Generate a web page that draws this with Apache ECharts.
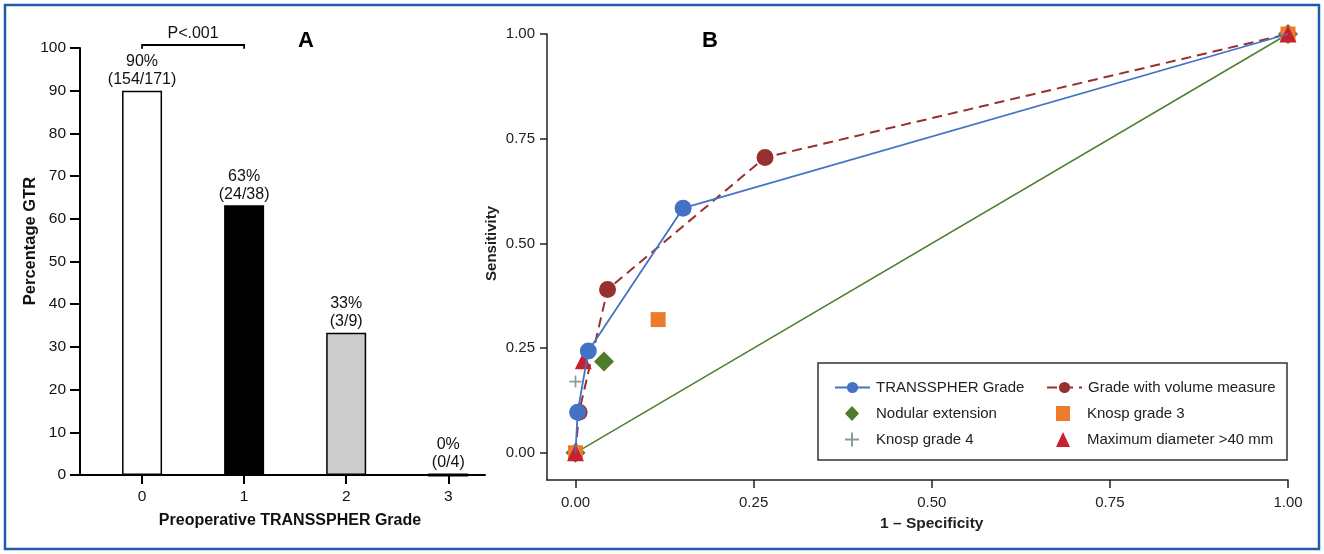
<!DOCTYPE html>
<html>
<head>
<meta charset="utf-8">
<script src="https://cdn.jsdelivr.net/npm/echarts@6/dist/echarts.min.js"></script>
<style>
html,body{margin:0;padding:0;background:#fff;}
#chart{width:1324px;height:554px;}
</style>
</head>
<body>
<div id="chart"></div>
<script>
// ---------- Panel A data ----------
const gradeCategories = ['0', '1', '2', '3'];
const gtrPercent = [90, 63.2, 33.3, 0];
const pctLabels = ['90%', '63%', '33%', '0%'];
const countLabels = ['(154/171)', '(24/38)', '(3/9)', '(0/4)'];
const barFills = ['#ffffff', '#000000', '#cccccc', '#000000'];
const pValueText = 'P<.001';

// ---------- Panel B data (x = 1 - specificity, y = sensitivity) ----------
const rocTicks = [0, 0.25, 0.5, 0.75, 1];
const transspherGrade = [[0, 0], [0.003, 0.097], [0.018, 0.243], [0.151, 0.584], [1, 1]];
const gradeVolume = [[0, 0], [0.005, 0.097], [0.045, 0.39], [0.266, 0.705], [1, 1]];
const nodularExt = [[0, 0], [0.04, 0.218], [1, 1]];
const knosp3 = [[0, 0], [0.116, 0.318], [1, 1]];
const knosp4 = [[0, 0], [0, 0.17], [1, 1]];
const maxDiam = [[0, 0], [0.011, 0.22], [1, 1]];
const diagonal = [[0, 0], [1, 1]];

const FONT = 'Liberation Sans, Arial, Helvetica, sans-serif';
const plusPath = 'path://M4.3,0H5.7V4.3H10V5.7H5.7V10H4.3V5.7H0V4.3H4.3Z';

function endpointsHidden(arr) {
  return arr.map((p, i) => (i === 0 || i === arr.length - 1) ? { value: p, symbol: 'none' } : p);
}

const chart = echarts.init(document.getElementById('chart'), null, { renderer: 'canvas' });

const axisTextA = { color: '#111', fontSize: 15.5, fontFamily: FONT };
const axisTextB = { color: '#222', fontSize: 15, fontFamily: FONT };
const legendText = { fontSize: 15, color: '#222', fontFamily: FONT };

const option = {
  animation: false,
  backgroundColor: '#fff',
  grid: [
    { left: 80, top: 48, width: 405, height: 427 },
    { left: 547, top: 34, width: 741, height: 446 }
  ],
  xAxis: [
    {
      gridIndex: 0, type: 'value', min: -0.608, max: 3.36,
      splitLine: { show: false },
      axisLine: { show: true, onZero: false, lineStyle: { color: '#000', width: 2 } },
      axisTick: { show: true, length: 9, customValues: [0, 1, 2, 3], lineStyle: { color: '#000', width: 2 } },
      axisLabel: { ...axisTextA, margin: 14, customValues: [0, 1, 2, 3], formatter: v => gradeCategories[Math.round(v)] }
    },
    {
      gridIndex: 1, type: 'value', min: -0.04, max: 1,
      splitLine: { show: false },
      axisLine: { show: true, onZero: false, lineStyle: { color: '#222', width: 1.5 } },
      axisTick: { show: true, length: 8, customValues: rocTicks, lineStyle: { color: '#222', width: 1.5 } },
      axisLabel: { ...axisTextB, margin: 15, customValues: rocTicks, formatter: v => v.toFixed(2) }
    }
  ],
  yAxis: [
    {
      gridIndex: 0, type: 'value', min: 0, max: 100, interval: 10,
      splitLine: { show: false },
      axisLine: { show: true, onZero: false, lineStyle: { color: '#000', width: 2 } },
      axisTick: { show: true, length: 10, lineStyle: { color: '#000', width: 2 } },
      axisLabel: { ...axisTextA, margin: 14 }
    },
    {
      gridIndex: 1, type: 'value', min: -0.065, max: 1,
      splitLine: { show: false },
      axisLine: { show: true, onZero: false, lineStyle: { color: '#222', width: 1.5 } },
      axisTick: { show: true, length: 7, customValues: rocTicks, lineStyle: { color: '#222', width: 1.5 } },
      axisLabel: { ...axisTextB, margin: 12, customValues: rocTicks, formatter: v => v.toFixed(2) }
    }
  ],
  legend: [
    {
      left: 829, top: 375, orient: 'vertical', itemWidth: 35, itemHeight: 14,
      textStyle: { ...legendText, padding: [0, 0, 0, 1] },
      data: ['TRANSSPHER Grade']
    },
    {
      left: 840, top: 401, orient: 'vertical', itemWidth: 14, itemHeight: 15, itemGap: 11,
      textStyle: { ...legendText, padding: [0, 0, 0, 12] },
      data: ['Nodular extension', 'Knosp grade 4']
    },
    {
      left: 1041, top: 375, orient: 'vertical', itemWidth: 35, itemHeight: 14,
      textStyle: { ...legendText, padding: [0, 0, 0, 1] },
      data: ['Grade with volume measure']
    },
    {
      left: 1051, top: 401, orient: 'vertical', itemWidth: 14, itemHeight: 15, itemGap: 11,
      textStyle: { ...legendText, padding: [0, 0, 0, 12] },
      data: ['Knosp grade 3', 'Maximum diameter >40 mm']
    }
  ],
  series: [
    {
      type: 'bar', xAxisIndex: 0, yAxisIndex: 0, barWidth: 40,
      data: gtrPercent.map((v, i) => ({
        value: [i, v],
        itemStyle: { color: barFills[i], borderColor: '#000', borderWidth: i === 3 ? 3 : 1.5 }
      })),
      label: {
        show: true, position: 'top', distance: 2,
        color: '#111', fontSize: 16, fontFamily: FONT, lineHeight: 18, align: 'center',
        formatter: p => pctLabels[p.dataIndex] + '\n' + countLabels[p.dataIndex]
      }
    },
    {
      name: 'diagonal', type: 'line', xAxisIndex: 1, yAxisIndex: 1,
      data: diagonal, symbol: 'none', lineStyle: { color: '#4f7f2f', width: 1.5 }, z: 2
    },
    {
      name: 'Grade with volume measure', type: 'line', xAxisIndex: 1, yAxisIndex: 1,
      data: endpointsHidden(gradeVolume), symbol: 'circle', symbolSize: 17,
      itemStyle: { color: '#97302f', opacity: 1 },
      lineStyle: { color: '#97302f', width: 2, type: [10, 6] }, z: 3
    },
    {
      name: 'Nodular extension', type: 'scatter', xAxisIndex: 1, yAxisIndex: 1,
      data: nodularExt, symbol: 'diamond', symbolSize: 20,
      itemStyle: { color: '#4e7b2c', opacity: 1 }, z: 4
    },
    {
      name: 'Knosp grade 4', type: 'scatter', xAxisIndex: 1, yAxisIndex: 1,
      data: knosp4, symbol: plusPath, symbolSize: 12,
      itemStyle: { color: '#8a9c9a', opacity: 1 }, z: 4
    },
    {
      name: 'Knosp grade 3', type: 'scatter', xAxisIndex: 1, yAxisIndex: 1,
      data: knosp3, symbol: 'rect', symbolSize: 15,
      itemStyle: { color: '#ec7c2c', opacity: 1 }, z: 5
    },
    {
      name: 'Maximum diameter >40 mm', type: 'scatter', xAxisIndex: 1, yAxisIndex: 1,
      data: maxDiam, symbol: 'triangle', symbolSize: 17,
      itemStyle: { color: '#c8202f', opacity: 1 }, z: 6
    },
    {
      name: 'TRANSSPHER Grade', type: 'line', xAxisIndex: 1, yAxisIndex: 1,
      data: endpointsHidden(transspherGrade), symbol: 'circle', symbolSize: 17,
      itemStyle: { color: '#4472c4', opacity: 1 },
      lineStyle: { color: '#4472c4', width: 1.8 }, z: 7
    }
  ]
};

chart.setOption(option);

// annotation elements placed via the library's scales
const bL = chart.convertToPixel({ xAxisIndex: 0, yAxisIndex: 0 }, [0, 100.7]);
const bR = chart.convertToPixel({ xAxisIndex: 0, yAxisIndex: 0 }, [1, 100.7]);
const bD = chart.convertToPixel({ xAxisIndex: 0, yAxisIndex: 0 }, [0, 99.8]);
const pTxt = chart.convertToPixel({ xAxisIndex: 0, yAxisIndex: 0 }, [0.5, 103.3]);
const half = chart.convertToPixel({ xAxisIndex: 1, yAxisIndex: 1 }, [0.5, 0.5]);

chart.setOption({
  graphic: [
    { type: 'rect', shape: { x: 5, y: 5, width: 1314, height: 544 }, style: { fill: 'none', stroke: '#1f5ca8', lineWidth: 2.5 }, silent: true },
    { type: 'polyline', shape: { points: [[bL[0], bD[1]], [bL[0], bL[1]], [bR[0], bR[1]], [bR[0], bD[1]]] }, style: { fill: 'none', stroke: '#000', lineWidth: 1.8 } },
    { type: 'text', x: pTxt[0], y: pTxt[1], style: { text: pValueText, font: '16px ' + FONT, fill: '#111', align: 'center', verticalAlign: 'middle' } },
    { type: 'text', x: 306, y: 41, style: { text: 'A', font: 'bold 22px ' + FONT, fill: '#000', align: 'center', verticalAlign: 'middle' } },
    { type: 'text', x: 710, y: 41, style: { text: 'B', font: 'bold 22px ' + FONT, fill: '#000', align: 'center', verticalAlign: 'middle' } },
    { type: 'text', x: 30, y: 241, rotation: Math.PI / 2, style: { text: 'Percentage GTR', font: 'bold 16.5px ' + FONT, fill: '#111', align: 'center', verticalAlign: 'middle' } },
    { type: 'text', x: 290, y: 521, style: { text: 'Preoperative TRANSSPHER Grade', font: 'bold 16px ' + FONT, fill: '#111', align: 'center', verticalAlign: 'middle' } },
    { type: 'text', x: 492, y: half[1], rotation: Math.PI / 2, style: { text: 'Sensitivity', font: 'bold 15px ' + FONT, fill: '#222', align: 'center', verticalAlign: 'middle' } },
    { type: 'text', x: half[0], y: 524, style: { text: '1 \u2013 Specificity', font: 'bold 15.5px ' + FONT, fill: '#222', align: 'center', verticalAlign: 'middle' } },
    { type: 'rect', shape: { x: 818, y: 363, width: 469, height: 97 }, style: { fill: 'none', stroke: '#333', lineWidth: 1.5 }, z: 100 }
  ]
});
</script>
</body>
</html>
